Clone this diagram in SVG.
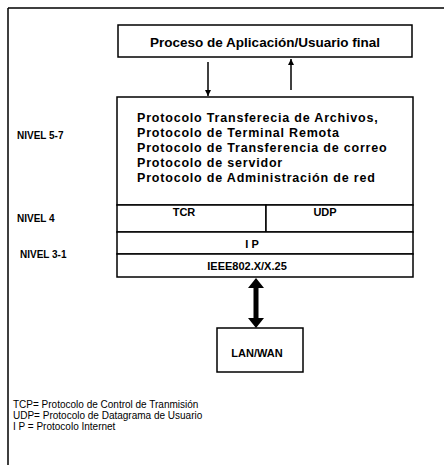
<svg xmlns="http://www.w3.org/2000/svg" width="446" height="465" viewBox="0 0 446 465">
<defs>
<marker id="ah" markerWidth="8" markerHeight="8" refX="6" refY="3" orient="auto" markerUnits="userSpaceOnUse">
<path d="M0,0 L6,3 L0,6 Z" fill="#000"/>
</marker>
<style>
.box{fill:#fff;stroke:#000;stroke-width:1.5}
.ln{stroke:#000;stroke-width:1.5;fill:none}
.t{font-family:"Liberation Sans",Arial,sans-serif;font-weight:bold;fill:#000}
.big{font-size:13.5px}
.mid{font-size:12.5px;letter-spacing:0.8px}
.sm{font-size:11px}
.lab{font-size:10px}
.leg{font-family:"Liberation Sans",Arial,sans-serif;font-size:10px;fill:#000}
</style>
</defs>
<rect width="446" height="465" fill="#fff"/>
<g id="frame">
<path class="ln" d="M8,8 L444,8 M8,8 L8,465"/>
</g>
<g id="app">
<rect class="box" x="118" y="25" width="294" height="32"/>
<text class="t big" x="265" y="47" text-anchor="middle">Proceso de Aplicación/Usuario final</text>
</g>
<g id="upper">
<rect class="box" x="117" y="97" width="296" height="108"/>
<text class="t mid" x="137" y="122">Protocolo Transferecia de Archivos,</text>
<text class="t mid" x="137" y="137">Protocolo de Terminal Remota</text>
<text class="t mid" x="137" y="152">Protocolo de Transferencia  de correo</text>
<text class="t mid" x="137" y="167">Protocolo de servidor</text>
<text class="t mid" x="137" y="182">Protocolo de Administración de red</text>
</g>
<g id="tcr">
<rect class="box" x="117" y="205" width="149" height="27"/>
<text class="t sm" x="184" y="216" text-anchor="middle">TCR</text>
</g>
<g id="udp">
<rect class="box" x="266" y="205" width="147" height="27"/>
<text class="t sm" x="325" y="216" text-anchor="middle">UDP</text>
</g>
<g id="ip">
<rect class="box" x="117" y="232" width="296" height="22"/>
<text class="t sm" x="252" y="248" text-anchor="middle">I P</text>
</g>
<g id="ieee">
<rect class="box" x="117" y="254" width="296" height="23"/>
<text class="t sm" x="247" y="270" text-anchor="middle">IEEE802.X/X.25</text>
</g>
<g id="lanwan">
<rect class="box" x="217" y="328" width="86" height="44"/>
<text class="t sm" x="257" y="357" text-anchor="middle">LAN/WAN</text>
</g>
<g id="levels">
<text class="t lab" x="17" y="139">NIVEL 5-7</text>
<text class="t lab" x="17" y="222">NIVEL 4</text>
<text class="t lab" x="20" y="258">NIVEL 3-1</text>
</g>
<g id="legend">
<text class="leg" x="13" y="408">TCP= Protocolo de Control de Tranmisión</text>
<text class="leg" x="13" y="419">UDP= Protocolo de Datagrama de Usuario</text>
<text class="leg" x="13" y="430">I P = Protocolo Internet</text>
</g>
<g id="connectors">
<line class="ln" x1="208" y1="62" x2="208" y2="96" marker-end="url(#ah)"/>
<line class="ln" x1="291" y1="90" x2="291" y2="59" marker-end="url(#ah)"/>
<polygon fill="#000" points="256,278 264,288 258.5,288 258.5,318 264,318 256,328 248,318 253.5,318 253.5,288 248,288"/>
</g>
</svg>
